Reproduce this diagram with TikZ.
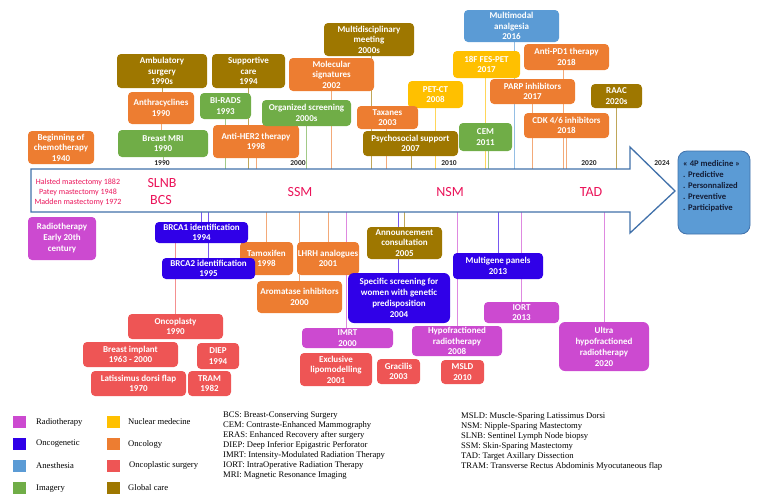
\documentclass[tikz,border=0pt]{standalone}
\usepackage{fontspec}
\setmainfont{Carlito}
\newfontfamily\tnr{Liberation Serif}
\usetikzlibrary{backgrounds}
\definecolor{cOrange}{RGB}{237,125,49}
\definecolor{cOlive}{RGB}{158,119,0}
\definecolor{cGreen}{RGB}{112,173,71}
\definecolor{cYellow}{RGB}{255,192,0}
\definecolor{cBlue}{RGB}{91,155,213}
\definecolor{cGene}{RGB}{48,0,232}
\definecolor{cRadio}{RGB}{204,74,208}
\definecolor{cPlast}{RGB}{238,85,85}
\definecolor{cPink}{RGB}{235,20,90}
\definecolor{cArrow}{RGB}{65,113,170}
\definecolor{cNavy}{RGB}{20,30,55}
\tikzset{
  box/.style={rounded corners=4pt, draw=none, text=white, align=center, inner sep=0pt,
    font=\bfseries\fontsize{9}{10.5}\selectfont},
  bx/.style n args={3}{box, fill=#1, minimum width=#2, minimum height=#3},
  cl/.style={draw=#1!65, line width=0.9pt},
  yl/.style={inner sep=0pt, text=black!85, font=\bfseries\fontsize{7.5}{9}\selectfont},
  abbr/.style={inner sep=0pt, text=cPink, font=\fontsize{14}{17}\selectfont},
  legsq/.style={draw=none, fill=#1, minimum width=13pt, minimum height=12pt, inner sep=0pt},
  legtx/.style={anchor=west, inner sep=0pt, font=\tnr\fontsize{8.6}{10}\selectfont},
}
\begin{document}
\begin{tikzpicture}[x=1pt, y=-1pt]
\useasboundingbox (0,0) rectangle (762,499);
% main arrow
\draw[draw=cArrow, line width=1.3pt, fill=white, line join=miter]
  (31,169) -- (630,169) -- (630,147) -- (675,191) -- (630,233) -- (630,212) -- (31,212) -- cycle;
\coordinate (atop) at (0,169);
\coordinate (abot) at (0,212);
% texts in arrow
\node[inner sep=0pt, text=cPink, align=center, font=\fontsize{8}{10}\selectfont] (mast) at (78,192)
  {Halsted mastectomy 1882\\Patey mastectomy 1948\\Madden mastectomy 1972};
\node[abbr] (slnb) at (162,183) {SLNB};
\node[abbr] (bcs) at (161,200) {BCS};
\node[abbr] (ssm) at (300,192) {SSM};
\node[abbr] (nsm) at (450,192) {NSM};
\node[abbr] (tad) at (591,192) {TAD};
% year labels
\node[yl] (y1990) at (162,163) {1990};
\node[yl] (y2000) at (298,163) {2000};
\node[yl] (y2010) at (449,163) {2010};
\node[yl] (y2020) at (589,163) {2020};
\node[yl] (y2024) at (662,163) {2024};
% 4P box
\node[rounded corners=9pt, draw=cArrow, line width=0.8pt, fill=cBlue, minimum width=72pt, minimum height=83pt] (fourp) at (714,192.5) {};
\node[anchor=north west, inner sep=0pt, align=left, text=cNavy, font=\bfseries\fontsize{8.6}{11}\selectfont] (fourptx) at (683,160)
  {« 4P medicine »\\. Predictive\\. Personnalized\\. Preventive\\. Participative};
% boxes above the arrow
\node[bx={cOrange}{66pt}{33pt}] (chemo) at (61,147.5) {Beginning of\\chemotherapy\\1940};
\node[bx={cOlive}{90pt}{34pt}] (ambul) at (162,71) {Ambulatory\\surgery\\1990s};
\node[bx={cOrange}{66pt}{32pt}] (anthra) at (161,108) {Anthracyclines\\1990};
\node[bx={cGreen}{90pt}{27pt}] (bmri) at (163,143.5) {Breast MRI\\1990};
\node[bx={cOlive}{73pt}{34pt}] (suppc) at (248.5,71) {Supportive\\care\\1994};
\node[bx={cGreen}{51pt}{26pt}] (birads) at (225.5,106) {BI-RADS\\1993};
\node[bx={cOrange}{86pt}{33pt}] (her2) at (256,141.5) {Anti-HER2 therapy\\1998};
\node[bx={cOlive}{90pt}{33pt}] (mdm) at (369,39.5) {Multidisciplinary\\meeting\\2000s};
\node[bx={cOrange}{85pt}{33pt}] (molsig) at (331.5,74.5) {Molecular\\signatures\\2002};
\node[bx={cGreen}{89pt}{26pt}] (orgscr) at (306.5,113) {Organized screening\\2000s};
\node[bx={cYellow}{55pt}{27pt}] (petct) at (435.5,94.5) {PET-CT\\2008};
\node[bx={cOrange}{61pt}{23pt}] (taxanes) at (387.5,117.5) {Taxanes\\2003};
\node[bx={cOlive}{95pt}{25pt}] (psycho) at (410.5,143.5) {Psychosocial support\\2007};
\node[bx={cBlue}{95pt}{32pt}] (mma) at (511.5,26) {Multimodal\\analgesia\\2016};
\node[bx={cYellow}{67pt}{27pt}] (fes) at (486.5,64.5) {18F FES-PET\\2017};
\node[bx={cGreen}{53pt}{28pt}] (cem) at (485.5,137) {CEM\\2011};
\node[bx={cOrange}{85pt}{25pt}] (parp) at (532.5,91.5) {PARP inhibitors\\2017};
\node[bx={cOrange}{85pt}{26pt}] (pd1) at (566.5,57) {Anti-PD1 therapy\\2018};
\node[bx={cOrange}{85pt}{25pt}] (cdk) at (566.5,125.5) {CDK 4/6 inhibitors\\2018};
\node[bx={cOlive}{51pt}{24pt}] (raac) at (616.5,96) {RAAC\\2020s};
% boxes below the arrow
\node[bx={cRadio}{68pt}{43pt}, font=\bfseries\fontsize{9}{11}\selectfont] (radio) at (62,238.5) {Radiotherapy\\Early 20th\\century};
\node[bx={cOrange}{53pt}{33pt}] (tamox) at (266.5,258.5) {Tamoxifen\\1998};
\node[bx={cGene}{93pt}{21pt}] (brca1) at (201.5,232.5) {BRCA1 identification\\1994};
\node[bx={cGene}{93pt}{21pt}] (brca2) at (208.5,268.5) {BRCA2 identification\\1995};
\node[bx={cOrange}{62pt}{33pt}] (lhrh) at (328,258.5) {LHRH analogues\\2001};
\node[bx={cOrange}{85pt}{32pt}] (arom) at (299.5,297) {Aromatase inhibitors\\2000};
\node[bx={cOlive}{75pt}{32pt}] (annc) at (404.5,243) {Announcement\\consultation\\2005};
\node[bx={cGene}{102pt}{50pt}, rounded corners=6pt, font=\bfseries\fontsize{9}{11.2}\selectfont] (spec) at (399,298) {Specific screening for\\women with genetic\\predisposition\\2004};
\node[bx={cGene}{90pt}{26pt}] (multig) at (498,266) {Multigene panels\\2013};
\node[bx={cRadio}{75pt}{21pt}] (iort) at (521.5,312.5) {IORT\\2013};
\node[bx={cRadio}{91pt}{20pt}] (imrt) at (347.5,338) {IMRT\\2000};
\node[bx={cPlast}{72pt}{33pt}] (lipo) at (336,369.5) {Exclusive\\lipomodelling\\2001};
\node[bx={cPlast}{43pt}{25pt}] (gracilis) at (398.5,371.5) {Gracilis\\2003};
\node[bx={cRadio}{90pt}{30pt}] (hypo) at (457,341) {Hypofractioned\\radiotherapy\\2008};
\node[bx={cPlast}{43pt}{24pt}] (msld) at (462.5,372) {MSLD\\2010};
\node[bx={cRadio}{90pt}{49pt}, rounded corners=6pt, font=\bfseries\fontsize{9}{11}\selectfont] (ultra) at (604,346.5) {Ultra\\hypofractioned\\radiotherapy\\2020};
\node[bx={cPlast}{95pt}{25pt}] (oncopl) at (175.5,326.5) {Oncoplasty\\1990};
\node[bx={cPlast}{95pt}{25pt}] (implant) at (130.5,354.5) {Breast implant\\1963 - 2000};
\node[bx={cPlast}{42pt}{26pt}] (diep) at (218,356) {DIEP\\1994};
\node[bx={cPlast}{95pt}{25pt}] (ldflap) at (138.5,383.5) {Latissimus dorsi flap\\1970};
\node[bx={cPlast}{43pt}{25pt}] (tram) at (209.5,383.5) {TRAM\\1982};
% connectors
\begin{pgfonlayer}{background}
\draw[cl=cOlive] (ambul.south) -- (ambul.south |- anthra.north);
\draw[cl=cOrange] (anthra.south) -- (anthra.south |- bmri.north);
\draw[cl=cGreen] (bmri.south) -- (bmri.south |- y1990.north);
\draw[cl=cGreen] (birads.south) -- (birads.south |- atop);
\draw[cl=cOlive] (suppc.south) -- (suppc.south |- atop);
\draw[cl=cOrange] (her2.south) -- (her2.south |- atop);
\draw[cl=cGreen] (orgscr.south) -- (orgscr.south |- atop);
\draw[cl=cOrange] (molsig.south) -- (molsig.south |- atop);
\draw[cl=cOlive] ([xshift=2pt]mdm.south) -- ([xshift=2pt]mdm.south |- atop);
\draw[cl=cOrange] ([xshift=-1pt]taxanes.south) -- ([xshift=-1pt]taxanes.south |- atop);
\draw[cl=cOlive] ([xshift=1pt]psycho.south) -- ([xshift=1pt]psycho.south |- atop);
\draw[cl=cYellow] (petct.south) -- (petct.south |- atop);
\draw[cl=cYellow] ([xshift=-1pt]fes.south) -- ([xshift=-1pt]fes.south |- atop);
\draw[cl=cGreen] ([xshift=2.5pt]cem.south) -- ([xshift=2.5pt]cem.south |- atop);
\draw[cl=cBlue] ([xshift=2.5pt]mma.south) -- ([xshift=2.5pt]mma.south |- atop);
\draw[cl=cOrange] (parp.south) -- (parp.south |- atop);
\draw[cl=cOrange] ([xshift=-3.5pt]pd1.south) -- ([xshift=-3.5pt]pd1.south |- atop);
\draw[cl=cOrange] (cdk.south) -- (cdk.south |- atop);
\draw[cl=cOlive] (raac.south) -- (raac.south |- atop);
\draw[cl=cGene] (brca1.north) -- (brca1.north |- abot);
\draw[cl=cGene] (brca2.north) -- (brca2.north |- abot);
\draw[cl=cPlast] (oncopl.north) -- (oncopl.north |- brca1.south);
\draw[cl=cOrange] (tamox.north) -- (tamox.north |- abot);
\draw[cl=cOrange] (lhrh.north) -- (lhrh.north |- abot);
\draw[cl=cOrange] (arom.north) -- (arom.north |- abot);
\draw[cl=cOlive] (annc.north) -- (annc.north |- abot);
\draw[cl=cGene] ([xshift=-1pt]spec.north) -- ([xshift=-1pt]spec.north |- abot);
\draw[cl=cRadio] ([xshift=-1.5pt]imrt.north) -- ([xshift=-1.5pt]imrt.north |- abot);
\draw[cl=cRadio] (hypo.north) -- (hypo.north |- abot);
\draw[cl=cGene] (multig.north) -- (multig.north |- abot);
\draw[cl=cRadio] (iort.north) -- (iort.north |- abot);
\draw[cl=cRadio] (ultra.north) -- (ultra.north |- abot);
\end{pgfonlayer}
% legend
\node[legsq=cRadio] (lsq1) at (19.5,422) {};
\node[legsq=cGene] (lsq2) at (19.5,444) {};
\node[legsq=cBlue] (lsq3) at (19.5,466) {};
\node[legsq=cGreen] (lsq4) at (19.5,488) {};
\node[legsq=cYellow] (lsq5) at (113,422) {};
\node[legsq=cOrange] (lsq6) at (113,444) {};
\node[legsq=cPlast] (lsq7) at (113,466) {};
\node[legsq=cOlive] (lsq8) at (113,488) {};
\node[legtx] (ltx1) at (36,422) {Radiotherapy};
\node[legtx] (ltx2) at (36,444) {Oncogenetic};
\node[legtx] (ltx3) at (36,466) {Anesthesia};
\node[legtx] (ltx4) at (36,489) {Imagery};
\node[legtx] (ltx5) at (128,422) {Nuclear medecine};
\node[legtx] (ltx6) at (128,444) {Oncology};
\node[legtx] (ltx7) at (129,465) {Oncoplastic surgery};
\node[legtx] (ltx8) at (128,488) {Global care};
\node[anchor=north west, inner sep=0pt, align=left, font=\tnr\fontsize{8.6}{10}\selectfont] (abbr1) at (223,412)
  {BCS: Breast-Conserving Surgery\\CEM: Contraste-Enhanced Mammography\\ERAS: Enhanced Recovery after surgery\\DIEP: Deep Inferior Epigastric Perforator\\IMRT: Intensity-Modulated Radiation Therapy\\IORT: IntraOperative Radiation Therapy\\MRI: Magnetic Resonance Imaging};
\node[anchor=north west, inner sep=0pt, align=left, font=\tnr\fontsize{8.6}{10}\selectfont] (abbr2) at (461,412)
  {MSLD: Muscle-Sparing Latissimus Dorsi\\NSM: Nipple-Sparing Mastectomy\\SLNB: Sentinel Lymph Node biopsy\\SSM: Skin-Sparing Mastectomy\\TAD: Target Axillary Dissection\\TRAM: Transverse Rectus Abdominis Myocutaneous flap};
\end{tikzpicture}
\end{document}
